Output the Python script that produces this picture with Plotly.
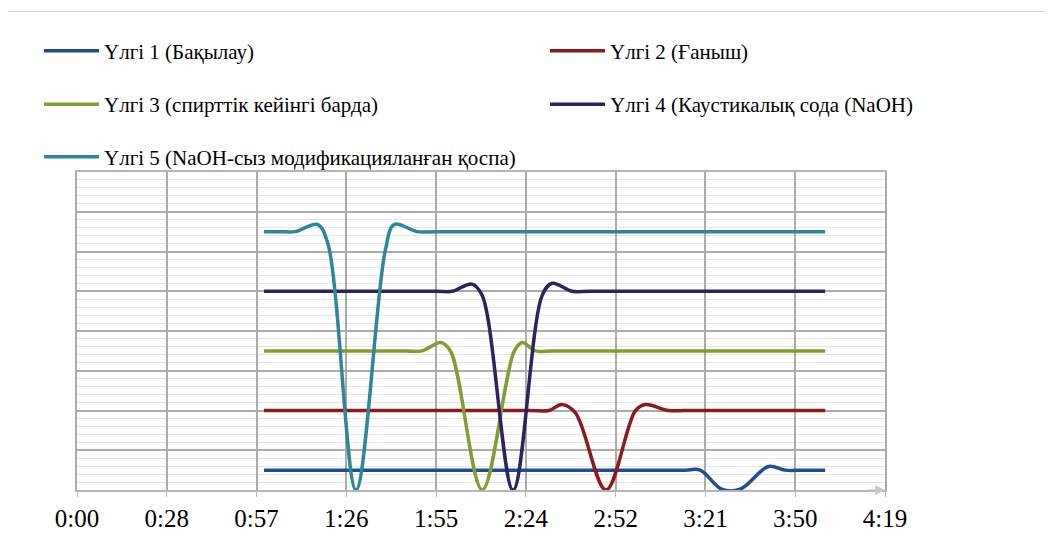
import plotly.graph_objects as go

# ---- data (time in seconds, values in relative units) ----
tick_vals = [0, 28.8, 57.6, 86.4, 115.2, 144.0, 172.8, 201.6, 230.4, 259.2]
tick_text = ["0:00", "0:28", "0:57", "1:26", "1:55", "2:24", "2:52", "3:21", "3:50", "4:19"]

names = [
    "Үлгі 1 (Бақылау)",
    "Үлгі 2 (Ғаныш)",
    "Үлгі 3 (спирттік кейінгі барда)",
    "Үлгі 4 (Каустикалық сода (NaOH)",
    "Үлгі 5 (NaOH-сыз модификацияланған қоспа)",
]

t1 = [60, 195.0, 199.9, 206.8, 212.7, 221.8, 227.1, 233.0, 240]
v1 = [0.5, 0.5, 0.5, 0.02, 0.02, 0.59, 0.5, 0.5, 0.5]

t2 = [60, 145.0, 151.4, 155.5, 159.9, 169.7, 179.1, 182.3, 189.8, 195.0, 240]
v2 = [2.0, 2.0, 2.0, 2.15, 1.94, 0.0, 1.99, 2.15, 2.0, 2.0, 2.0]

t3 = [60, 105.0, 110.7, 116.7, 119.9, 130.0, 140.2, 142.8, 147.1, 153.0, 240]
v3 = [3.5, 3.5, 3.5, 3.71, 3.48, 0.0, 3.48, 3.71, 3.5, 3.5, 3.5]

t4 = [60, 115.0, 120.4, 126.7, 130.0, 139.9, 149.2, 152.4, 158.8, 165.0, 240]
v4 = [5.0, 5.0, 5.0, 5.18, 4.89, 0.0, 4.89, 5.2, 5.0, 5.0, 5.0]

t5 = [60, 65.0, 70.0, 77.1, 80.4, 89.5, 98.9, 101.8, 109.1, 115.0, 240]
v5 = [6.5, 6.5, 6.5, 6.68, 6.22, 0.0, 6.03, 6.68, 6.5, 6.5, 6.5]

colors = ["#1f4f8f", "#8c1a1a", "#7f9f32", "#2f2260", "#2e8799"]

series = [(t1, v1), (t2, v2), (t3, v3), (t4, v4), (t5, v5)]
legend_ids = ["legend", "legend2", "legend3", "legend4", "legend5"]

fig = go.Figure()
for (t, v), name, col, lid in zip(series, names, colors, legend_ids):
    fig.add_trace(go.Scatter(
        x=t, y=v, mode="lines", name=name, legend=lid,
        line=dict(color=col, width=3.5, shape="spline", smoothing=1.0),
    ))

# page body has an 8px margin; target plot area in window pixels: x 77..885, y 172..493
OFF = 8
L, R, T, B = 77 - OFF, 885 - OFF, 172 - OFF, 493 - OFF
W, H = 1053 - OFF, 544 - OFF
def px_x(p):
    return (p - OFF - L) / (R - L)
def px_y(p):
    return (B - (p - OFF)) / (B - T)

serif = "Liberation Serif, Times New Roman, DejaVu Serif, serif"
legend_pos = [(39, 50), (545, 50), (39, 104), (545, 104), (39, 157)]
font_leg = dict(family=serif, size=21, color="#000000")
leg_layout = {}
for lid, (lx, ly) in zip(legend_ids, legend_pos):
    leg_layout[lid] = dict(
        x=px_x(lx), y=px_y(ly), xanchor="left", yanchor="middle",
        font=font_leg, bgcolor="rgba(0,0,0,0)", borderwidth=0, itemwidth=55,
    )

fig.update_layout(
    width=W, height=H,
    margin=dict(l=L, r=W - R, t=T, b=H - B),
    paper_bgcolor="white", plot_bgcolor="white",
    showlegend=True,
    **leg_layout,
    xaxis=dict(
        range=[0, 259.2], tickvals=tick_vals, ticktext=tick_text,
        showgrid=True, gridcolor="#ababab", gridwidth=1.5,
        showline=True, linecolor="#b5b5b5", linewidth=1.5, mirror=True,
        ticks="outside", ticklen=5, tickcolor="#b5b5b5",
        tickfont=dict(family=serif, size=25, color="#000000"),
        zeroline=False,
    ),
    yaxis=dict(
        range=[0, 8], dtick=1, showticklabels=False,
        showgrid=True, gridcolor="#ababab", gridwidth=1.5,
        minor=dict(dtick=0.2, showgrid=True, gridcolor="#e6e6e6", gridwidth=1),
        showline=True, linecolor="#ababab", linewidth=1.5, mirror=True,
        zeroline=False,
    ),
    shapes=[dict(
        type="rect", xref="paper", yref="paper",
        x0=px_x(5), x1=px_x(1080), y0=px_y(580), y1=px_y(10),
        line=dict(color="#d4d4d4", width=1), fillcolor="rgba(0,0,0,0)", layer="below",
    )],
    annotations=[dict(
        x=259.2, y=0, xref="x", yref="y", ax=-18, ay=0, text="",
        showarrow=True, arrowhead=2, arrowsize=1.3, arrowwidth=1.5,
        arrowcolor="#c8c8c8",
    )],
)

fig.write_html("out.html")
